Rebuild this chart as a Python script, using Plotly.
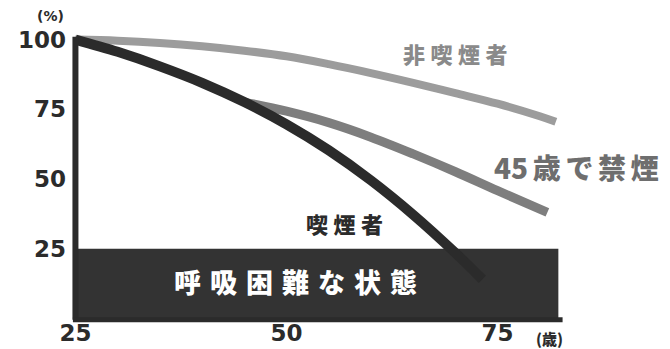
import plotly.graph_objects as go

# Data
nonsmoker_age = [25, 30, 35, 40, 45, 50, 55, 60, 65, 70, 75, 80, 81.9]
nonsmoker_val = [100, 99.6, 98.8, 97.6, 96, 94, 91.2, 88, 84.5, 80.8, 77, 72.5, 70.5]

smoker_age = [25, 30, 35, 40, 45, 50, 55, 60, 65, 70, 73.2]
smoker_val = [100, 95.6, 90.4, 84.5, 77.6, 69.6, 60.3, 49.5, 37.2, 23.5, 14]

quit_age = [45, 50, 55, 60, 65, 70, 75, 80.9]
quit_val = [77.6, 74.3, 70.2, 65, 59, 52.6, 45.8, 38]

x_ticks = [25, 50, 75]
y_ticks = [25, 50, 75, 100]
danger_level = 25
x_end = 82.2

FONT = "Noto Sans CJK JP"
NUM_FONT = "DejaVu Sans"
W, H = 670, 349
L, R, T, B = 67, 88, 34, 25

fig = go.Figure()

# Dark "breathing difficulty" zone
fig.add_shape(type="rect", x0=x_ticks[0], x1=x_end, y0=0, y1=danger_level,
              xref="x", yref="y", fillcolor="#333333", line=dict(width=0), layer="below")

fig.add_trace(go.Scatter(x=nonsmoker_age, y=nonsmoker_val, mode="lines",
                         line=dict(color="#9c9c9c", width=8, shape="spline"),
                         hoverinfo="skip"))
fig.add_trace(go.Scatter(x=quit_age, y=quit_val, mode="lines",
                         line=dict(color="#7e7e7e", width=9, shape="spline"),
                         hoverinfo="skip"))
fig.add_trace(go.Scatter(x=smoker_age, y=smoker_val, mode="lines",
                         line=dict(color="#2b2b2b", width=10, shape="spline"),
                         hoverinfo="skip"))

# Axis lines
fig.add_shape(type="line", x0=x_ticks[0], x1=x_ticks[0], y0=-0.5, y1=101,
              xref="x", yref="y", line=dict(color="#2b2b2b", width=6))
fig.add_shape(type="line", x0=x_ticks[0] - 0.3, x1=x_end + 0.5, y0=-0.5, y1=-0.5,
              xref="x", yref="y", line=dict(color="#2b2b2b", width=5))

fig.update_layout(
    width=W, height=H,
    margin=dict(l=L, r=R, t=T, b=B, autoexpand=False),
    paper_bgcolor="white", plot_bgcolor="white",
    showlegend=False,
    xaxis=dict(range=[24, 85], showgrid=False, zeroline=False, showline=False,
               automargin=False,
               tickvals=x_ticks, ticktext=[str(v) for v in x_ticks], ticks="",
               ticklabelstandoff=-7,
               tickfont=dict(family=NUM_FONT, size=23, color="#2b2b2b", weight="bold")),
    yaxis=dict(range=[-2, 102], showgrid=False, zeroline=False, showline=False,
               automargin=False,
               tickvals=y_ticks, ticktext=[str(v) for v in y_ticks], ticks="",
               ticklabelstandoff=0,
               tickfont=dict(family=NUM_FONT, size=23, color="#2b2b2b", weight="bold")),
)

pw, ph = W - L - R, H - T - B
S4 = "\u2005"
S6 = "\u2006"
S3 = "\u2004"
specs = [
    (S4.join("非喫煙者"), 455, 53, 22, "#8a8a8a", FONT),
    ("(%)", 50, 16, 14, "#2b2b2b", NUM_FONT),
    ("(歳)", 549, 338, 15, "#2b2b2b", FONT),
    ("45" + S6 + S6.join("歳で禁煙"), 576, 167, 28, "#6e6e6e", FONT),
    (S4.join("喫煙者"), 344, 223, 22, "#2b2b2b", FONT),
    (S3.join("呼吸困難な状態"), 295, 281, 27, "white", FONT),
]
for text, px, py, size, color, fam in specs:
    fig.add_annotation(text=text, x=(px - L) / pw, y=(H - B - py) / ph,
                       xref="paper", yref="paper", showarrow=False,
                       xanchor="center", yanchor="middle",
                       font=dict(family=fam, size=size, color=color, weight=900))

fig.write_html("out.html", config={"displayModeBar": False},
               post_script="document.body.style.margin='0';document.body.style.overflow='hidden';")
